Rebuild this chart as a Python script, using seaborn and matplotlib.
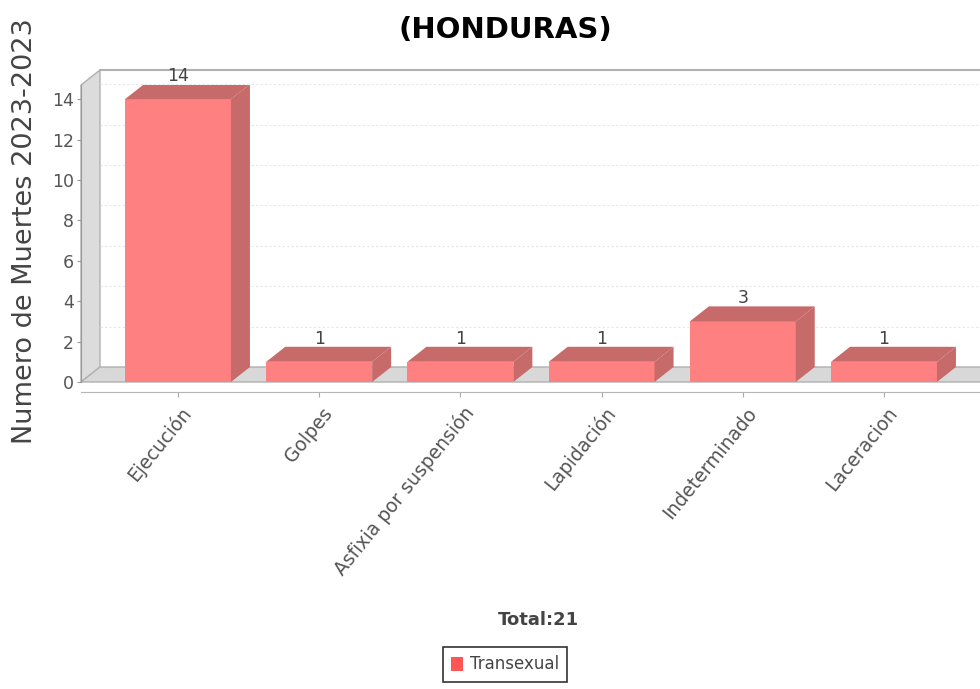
import numpy as np
import pandas as pd
import matplotlib
matplotlib.use("Agg")
import matplotlib.pyplot as plt
import seaborn as sns
from matplotlib.patches import Polygon, Patch
from matplotlib.transforms import ScaledTranslation

# Datos del gráfico
categorias = ["Ejecución", "Golpes", "Asfixia por suspensión", "Lapidación",
              "Indeterminado", "Laceracion"]
muertes = [14, 1, 1, 1, 3, 1]
serie = "Transexual"
titulo = "(HONDURAS)"
etiqueta_y = "Numero de Muertes 2023-2023"
total_txt = "Total:21"

df = pd.DataFrame({"causa": categorias, "muertes": muertes})

sns.set_style("white")
plt.rcParams["font.family"] = ["DejaVu Sans"]

fig = plt.figure(figsize=(9.8, 6.89), dpi=100)
fig.patch.set_facecolor("white")
ax = fig.add_axes([81 / 980, 307 / 689, 899 / 980, 297 / 689])

frente = "#ff8080"
oscuro = "#c76a6a"
sns.barplot(data=df, x="causa", y="muertes", color=frente, width=0.75,
            saturation=1, ax=ax, zorder=3, edgecolor="none")

xl, xr = -0.687, 5.68
ax.set_xlim(xl, xr)
ax.set_ylim(0, 14.7)
ax.set_yticks(range(0, 15, 2))

# profundidad 3D en pixeles -> unidades de datos
inv = ax.transData.inverted()
p0 = inv.transform(ax.transData.transform((0, 0)))
p1 = inv.transform(ax.transData.transform((0, 0)) + np.array([19, 15]))
dxd, dyd = p1 - p0
ytop = 14.7

# pared izquierda, pared del fondo y piso
ax.add_patch(Polygon([(xl, 0), (xl, ytop), (xl + dxd, ytop + dyd), (xl + dxd, dyd)],
                     closed=True, facecolor="#dcdcdc", edgecolor="#b0b0b0",
                     lw=1, zorder=0.5, clip_on=False))
ax.add_patch(Polygon([(xl, 0), (xr + 1, 0), (xr + 1 + dxd, dyd), (xl + dxd, dyd)],
                     closed=True, facecolor="#d8d8d8", edgecolor="#b0b0b0",
                     lw=1, zorder=0.5, clip_on=False))
ax.plot([xl + dxd, xr + 1], [ytop + dyd, ytop + dyd], color="#b0b0b0", lw=1.5,
        clip_on=False, zorder=0.6)
for yv in range(0, 15, 2):
    ax.plot([xl + dxd, xr + 1], [yv + dyd, yv + dyd], color="#e6e6e6" if yv else "#bbbbbb",
            lw=0.8, ls=(0, (2, 2)), clip_on=False, zorder=0.6)

# caras superior y lateral de las barras
for bar, val in zip(ax.patches[:len(muertes)], muertes):
    x0 = bar.get_x()
    w = bar.get_width()
    h = bar.get_height()
    ax.add_patch(Polygon([(x0, h), (x0 + w, h), (x0 + w + dxd, h + dyd), (x0 + dxd, h + dyd)],
                         closed=True, facecolor=oscuro, edgecolor="none", zorder=3))
    ax.add_patch(Polygon([(x0 + w, 0), (x0 + w, h), (x0 + w + dxd, h + dyd), (x0 + w + dxd, dyd)],
                         closed=True, facecolor=oscuro, edgecolor="none", zorder=3))
    ax.text(x0 + w / 2, h + dyd - 0.05, str(val), ha="center", va="bottom",
            fontsize=12.5, color="#444444", zorder=4)

# ejes
sns.despine(ax=ax, top=True, right=True)
ax.spines["bottom"].set_position(("outward", 7.2))
ax.spines["bottom"].set_color("#b5b5b5")
ax.spines["left"].set_color("#999999")
ax.tick_params(axis="y", length=3, color="#999999", labelsize=12.5,
               labelcolor="#555555", left=True, pad=2)
ax.tick_params(axis="x", length=3.5, color="#aaaaaa", labelsize=13.5,
               labelcolor="#555555", bottom=True, pad=2)
ax.set_xlabel("")
ax.set_ylabel("")
for lab in ax.get_xticklabels():
    lab.set_rotation(51)
    lab.set_ha("right")
    lab.set_va("center")
    lab.set_rotation_mode("anchor")
    lab.set_transform(lab.get_transform() + ScaledTranslation(0.1, -0.1, fig.dpi_scale_trans))

fig.text(505 / 980, 1 - 30 / 689, titulo, ha="center", va="center",
         fontsize=21, fontweight="bold", color="black")
fig.text(25 / 980, 1 - 231 / 689, etiqueta_y, ha="center", va="center",
         rotation=90, fontsize=19.5, color="#444444")
fig.text(538 / 980, 1 - 620 / 689, total_txt, ha="center", va="center",
         fontsize=13, fontweight="bold", color="#444444")

leg = fig.legend(handles=[Patch(facecolor="#ff5555", edgecolor="none", label=serie)],
                 loc="upper center", bbox_to_anchor=(505 / 980, 1 - 647 / 689),
                 fancybox=False, frameon=True, fontsize=12, handlelength=0.7,
                 handleheight=0.9, handletextpad=0.4, borderpad=0.5,
                 borderaxespad=0)
leg.get_frame().set_edgecolor("black")
leg.get_frame().set_linewidth(1.2)
for t in leg.get_texts():
    t.set_color("#444444")

fig.savefig("out.png", dpi=100)
